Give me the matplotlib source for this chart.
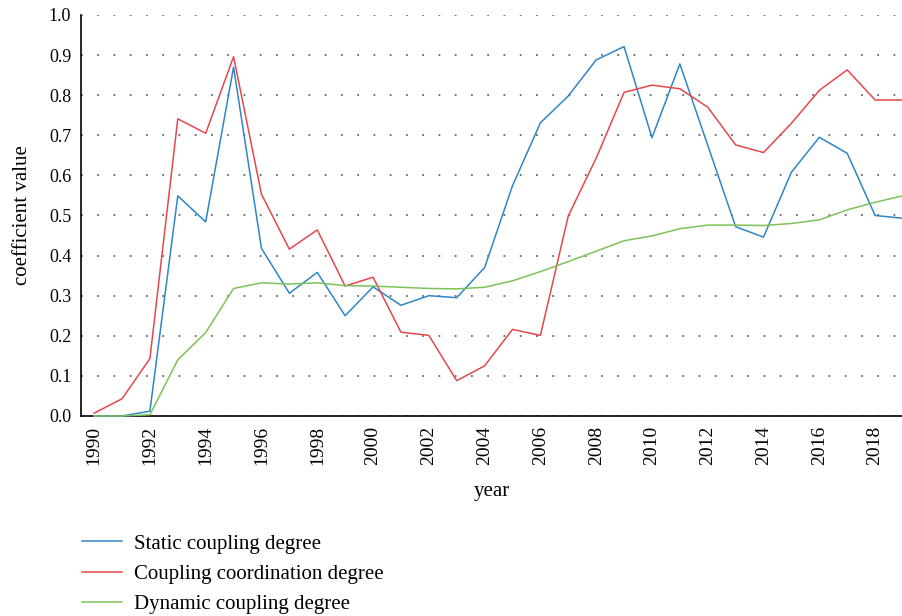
import numpy as np
import matplotlib.pyplot as plt

years = list(range(1990, 2020))

static_coupling = [0.0, 0.0, 0.012, 0.549, 0.484, 0.870, 0.418, 0.306, 0.358, 0.250,
                   0.322, 0.276, 0.300, 0.295, 0.370, 0.574, 0.731, 0.798, 0.888, 0.921,
                   0.694, 0.878, 0.675, 0.472, 0.446, 0.608, 0.695, 0.655, 0.500, 0.493]
coordination = [0.007, 0.043, 0.143, 0.741, 0.705, 0.896, 0.553, 0.416, 0.464, 0.324,
                0.346, 0.209, 0.201, 0.088, 0.125, 0.216, 0.201, 0.499, 0.643, 0.807,
                0.825, 0.816, 0.770, 0.676, 0.657, 0.730, 0.812, 0.863, 0.788, 0.788]
dynamic_coupling = [0.0, 0.0, 0.003, 0.140, 0.208, 0.318, 0.332, 0.329, 0.332, 0.325,
                    0.324, 0.321, 0.318, 0.317, 0.321, 0.337, 0.360, 0.385, 0.411, 0.437,
                    0.449, 0.467, 0.476, 0.476, 0.475, 0.480, 0.489, 0.514, 0.533, 0.549]

labels = ['Static coupling degree', 'Coupling coordination degree', 'Dynamic coupling degree']
colors = ['#2f86c6', '#e6474c', '#7cc25a']

plt.rcParams['font.family'] = ['Liberation Serif', 'DejaVu Serif']

fig = plt.figure(figsize=(9.03, 6.16), dpi=100)
ax = fig.add_axes([0.0897, 0.3247, 0.9103, 0.651])

for series, lab, col in zip([static_coupling, coordination, dynamic_coupling], labels, colors):
    ax.plot(years, series, color=col, lw=1.1, label=lab, clip_on=False, zorder=3)

ax.set_xlim(1989.53, 2019)
ax.set_ylim(0, 1.0)
ax.set_yticks(np.arange(0, 1.01, 0.1))
ax.set_yticklabels(['{:.1f}'.format(v) for v in np.arange(0, 1.01, 0.1)], fontsize=13)
ax.set_xticks(years[::2])
ax.set_xticklabels([str(y) for y in years[::2]], rotation=90, fontsize=14)
ax.tick_params(length=0, pad=7)

# dotted horizontal grid
ax.yaxis.grid(True, linestyle=(0, (1, 8)), color='#666666', lw=1.3)
ax.set_axisbelow(True)

for s in ['top', 'right']:
    ax.spines[s].set_visible(False)
ax.spines['left'].set_linewidth(1.2)
ax.spines['bottom'].set_linewidth(1.2)
ax.spines['left'].set_zorder(2)
ax.spines['bottom'].set_zorder(2)

ax.set_xlabel('year', fontsize=15, labelpad=12)
ax.set_ylabel('coefficient value', fontsize=15, labelpad=12)

fig.legend(loc='upper left', bbox_to_anchor=(0.091, 0.133), frameon=False,
           fontsize=15, handlelength=1.9, handletextpad=0.6, labelspacing=0.52,
           borderpad=0, borderaxespad=0)

fig.savefig('out.png', dpi=100)
